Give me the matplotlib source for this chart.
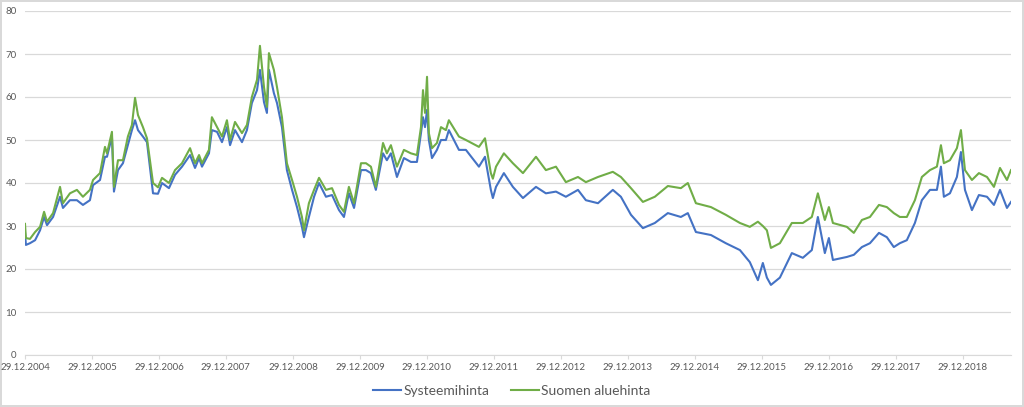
import matplotlib
matplotlib.use("Agg")
import matplotlib.pyplot as plt
import matplotlib.dates as mdates
import pandas as pd

plt.rcParams["font.family"] = ["Lato", "DejaVu Sans"]

# days after 29.12.2004 (EUR/MWh)
days = [0, 5, 27, 55, 82, 104, 120, 153, 191, 207, 245, 283, 316, 354, 371, 409,
        436, 447, 474, 485, 507, 534, 561, 583, 600, 616, 643, 665, 698, 725, 747,
        785, 818, 856, 900, 927, 949, 965, 1003, 1019, 1047, 1074, 1101, 1118, 1145,
        1183, 1210, 1237, 1265, 1281, 1303, 1319, 1330, 1357, 1374, 1401, 1428, 1456,
        1483, 1510, 1521, 1548, 1576, 1603, 1641, 1674, 1712, 1739, 1766, 1794, 1832,
        1859, 1886, 1913, 1952, 1973, 1995, 2028, 2066, 2104, 2137, 2159, 2170, 2181,
        2192, 2202, 2219, 2246, 2268, 2295, 2311, 2366, 2404, 2475, 2508, 2540, 2551,
        2568, 2611, 2660, 2715, 2786, 2840, 2895, 2949, 3015, 3058, 3124, 3205, 3249,
        3304, 3369, 3434, 3505, 3576, 3614, 3658, 3740, 3821, 3898, 3952, 3996, 4023,
        4045, 4067, 4116, 4181, 4241, 4290, 4323, 4361, 4383, 4405, 4481, 4519, 4563,
        4607, 4656, 4699, 4737, 4770, 4808, 4852, 4890, 4934, 4972, 4994, 5010, 5043,
        5081, 5103, 5125, 5163, 5201, 5245, 5283, 5316, 5354, 5376]

suomi = [30.5, 27.2, 27.0, 28.6, 29.8, 33.3, 31.0, 33.0, 39.1, 35.3, 37.6, 38.4, 36.8, 38.4, 40.7, 42.3,
         48.4, 46.9, 51.9, 39.1, 45.3, 45.3, 50.8, 53.5, 59.8, 55.8, 53.0, 50.4, 40.0, 39.0, 41.2,
         40.0, 43.0, 44.6, 48.1, 44.6, 46.5, 44.6, 47.7, 55.3, 53.0, 50.8, 54.6, 50.0, 54.2,
         51.6, 53.5, 60.0, 64.0, 71.9, 62.3, 57.7, 70.2, 66.3, 62.3, 55.3, 44.6, 40.7,
         36.8, 32.1, 29.0, 35.3, 38.4, 41.2, 38.4, 38.8, 34.9, 33.3, 39.1, 35.3, 44.6,
         44.6, 43.8, 39.1, 49.3, 46.9, 48.8, 43.8, 47.7, 46.9, 46.5, 53.0, 61.6, 56.3,
         64.7, 51.6, 48.1, 49.3, 53.0, 52.3, 54.6, 50.8, 50.0, 48.4, 50.4, 42.3, 41.0,
         43.8, 46.9, 44.6, 42.3, 46.1, 43.0, 43.8, 40.2, 41.4, 40.2, 41.4, 42.6, 41.4,
         38.8, 35.6, 36.8, 39.3, 38.8, 40.0, 35.3, 34.4, 32.6, 30.7, 29.8, 31.0, 30.0,
         29.0, 24.9, 26.0, 30.7, 30.7, 32.1, 37.6, 31.4, 34.4, 30.7, 29.8, 28.4, 31.4,
         32.1, 34.9, 34.4, 33.0, 32.1, 32.1, 36.0, 41.4, 43.0, 43.8, 48.8, 44.6, 45.3,
         48.1, 52.3, 43.0, 40.7, 42.3, 41.4, 39.1, 43.5, 40.7, 43.0]

systeemi = [28.5, 25.6, 26.0, 26.7, 29.0, 32.1, 30.2, 32.1, 36.8, 34.2, 36.0, 36.0, 34.9, 36.0, 39.5, 40.7,
            46.1, 46.1, 50.8, 38.0, 43.0, 44.6, 48.8, 52.3, 54.6, 52.3, 50.8, 49.5, 37.6, 37.5, 40.0,
            38.8, 41.9, 43.8, 46.5, 43.5, 45.8, 43.8, 46.9, 52.3, 51.9, 49.5, 53.0, 48.8, 52.3,
            49.5, 52.3, 58.6, 61.6, 66.3, 58.8, 56.3, 66.3, 60.9, 58.6, 53.0, 43.0, 38.4,
            34.4, 29.8, 27.4, 32.1, 36.8, 40.0, 36.8, 37.2, 33.7, 32.1, 37.6, 34.2, 43.0,
            43.0, 42.3, 38.4, 46.9, 45.3, 46.9, 41.4, 45.8, 44.9, 44.9, 51.6, 55.3, 53.0,
            57.0, 50.0, 45.8, 47.7, 50.0, 50.0, 52.3, 47.7, 47.7, 43.8, 46.1, 38.4, 36.5,
            39.1, 42.3, 39.1, 36.5, 39.1, 37.6, 38.0, 36.8, 38.4, 36.0, 35.3, 38.4, 36.8,
            32.6, 29.5, 30.7, 33.0, 32.1, 33.0, 28.6, 27.9, 26.0, 24.4, 21.6, 17.4, 21.4,
            18.0, 16.3, 18.0, 23.7, 22.6, 24.4, 32.1, 23.7, 27.2, 22.1, 22.8, 23.3, 25.1,
            26.0, 28.4, 27.4, 25.1, 26.0, 26.7, 30.7, 36.0, 38.4, 38.4, 43.8, 36.8, 37.6,
            41.4, 47.2, 38.4, 33.7, 37.2, 36.8, 34.9, 38.4, 34.2, 35.6]

start = pd.Timestamp("2004-12-29")
dates = start + pd.to_timedelta(days, unit="D")
tick_dates = [pd.Timestamp(f"{y}-12-29") for y in range(2004, 2019)]

blue = "#4472C4"
green = "#70AD47"
grey_txt = "#595959"
grid_c = "#D9D9D9"

fig = plt.figure(figsize=(10.24, 4.07), dpi=100)
fig.patch.set_edgecolor(grid_c)
fig.patch.set_linewidth(1.5)
ax = fig.add_axes([25/1024, 52/407, 986/1024, 344/407])

ax.plot(dates, systeemi, color=blue, lw=1.5, label="Systeemihinta")
ax.plot(dates, suomi, color=green, lw=1.5, label="Suomen aluehinta")

ax.set_ylim(0, 80)
ax.set_yticks(range(0, 81, 10))
ax.set_xlim(start, start + pd.Timedelta(days=5376))
ax.set_xticks(tick_dates)
ax.xaxis.set_major_formatter(mdates.DateFormatter("%d.%m.%Y"))

ax.grid(axis="y", color=grid_c, lw=0.9)
ax.set_axisbelow(True)
for s in ["top", "right", "left"]:
    ax.spines[s].set_visible(False)
ax.spines["bottom"].set_color(grid_c)
ax.tick_params(axis="y", length=0, labelsize=7, labelcolor=grey_txt, pad=6)
ax.tick_params(axis="x", length=3, color=grid_c, labelsize=7, labelcolor=grey_txt, pad=3)

fig.legend(loc="lower center", bbox_to_anchor=(0.5, -0.005), ncol=2, frameon=False,
           fontsize=10, handlelength=2, handletextpad=0.2, columnspacing=1.5,
           labelcolor=grey_txt)

fig.savefig("out.png", dpi=100, edgecolor=fig.get_edgecolor())
